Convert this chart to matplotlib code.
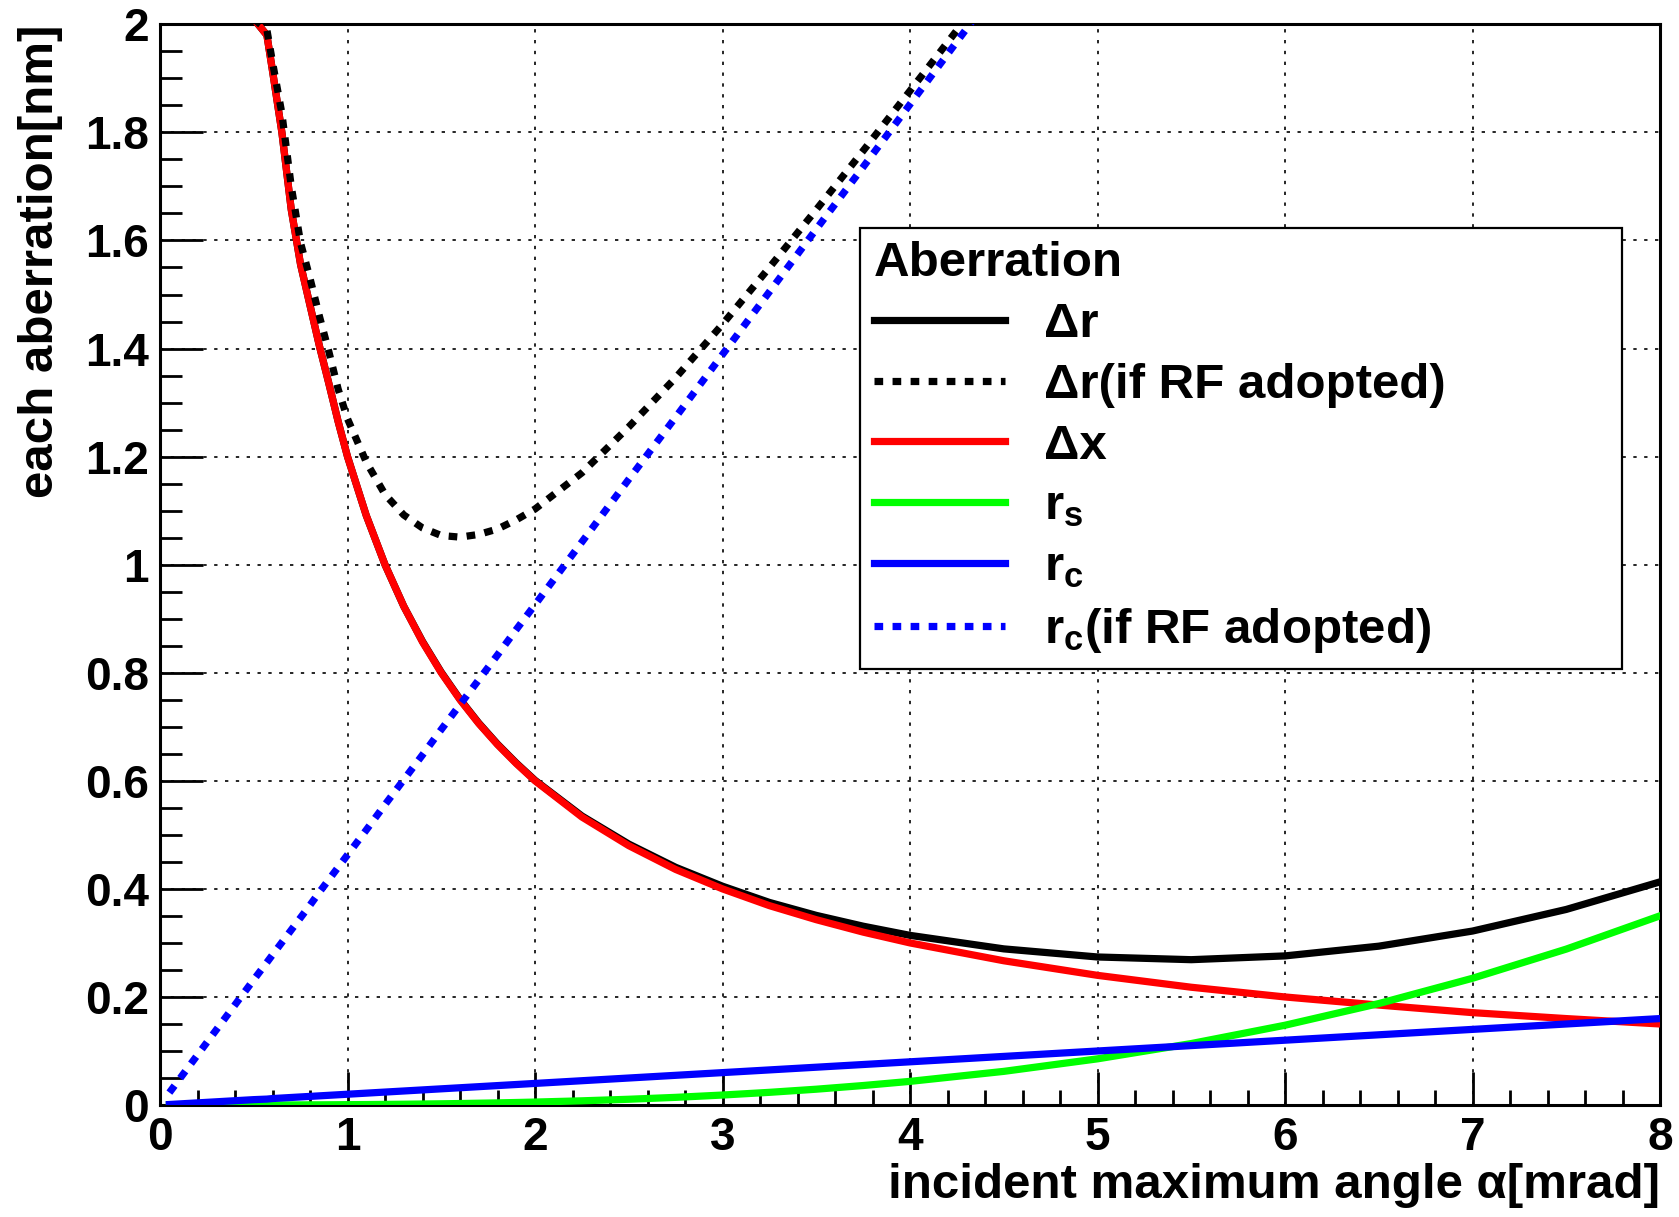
import numpy as np
import matplotlib
matplotlib.use('Agg')
import matplotlib.pyplot as plt
from matplotlib.ticker import MultipleLocator, FormatStrFormatter

plt.rcParams['font.family'] = ['Liberation Sans', 'DejaVu Sans']
plt.rcParams['font.weight'] = 'bold'
plt.rcParams['mathtext.fontset'] = 'custom'
plt.rcParams['mathtext.rm'] = 'Liberation Sans:bold'
plt.rcParams['mathtext.bf'] = 'Liberation Sans:bold'
plt.rcParams['mathtext.it'] = 'Liberation Sans:bold'

nan = np.nan

# incident maximum angle [mrad]
alpha = [0.05, 0.5, 0.57, 0.6, 0.65, 0.7, 0.75, 0.8, 0.85, 0.9, 0.95, 1.0, 1.1, 1.2,
         1.3, 1.4, 1.5, 1.6, 1.7, 1.8, 1.9, 2.0, 2.25, 2.5, 2.75, 3.0, 3.25, 3.5,
         3.75, 4.0, 4.5, 5.0, 5.5, 6.0, 6.5, 7.0, 7.5, 8.0]

# aberrations [nm]
dr = [nan, 2.01, 1.98, 1.914, 1.80, 1.657, 1.555, 1.48, 1.405, 1.336, 1.265, 1.200,
      1.091, 1.000, 0.923, 0.858, 0.801, 0.751, 0.707, 0.668, 0.633, 0.601, 0.535,
      0.483, 0.440, 0.405, 0.375, 0.351, 0.331, 0.314, 0.289, 0.274, 0.269, 0.276,
      0.294, 0.322, 0.362, 0.413]
dr_rf = [nan, 2.01, 1.99, 1.93, 1.835, 1.70, 1.595, 1.53, 1.46, 1.395, 1.325, 1.27,
         1.19, 1.13, 1.092, 1.068, 1.054, 1.051, 1.056, 1.066, 1.083, 1.103, 1.170,
         1.255, 1.346, 1.445, 1.550, 1.657, 1.766, 1.877, 2.101,
         nan, nan, nan, nan, nan, nan, nan]
dx = [nan, 2.01, 1.98, 1.914, 1.80, 1.657, 1.555, 1.48, 1.405, 1.336, 1.265, 1.200,
      1.091, 1.000, 0.923, 0.857, 0.800, 0.750, 0.706, 0.667, 0.632, 0.600, 0.533,
      0.480, 0.436, 0.400, 0.369, 0.343, 0.320, 0.300, 0.267, 0.240, 0.218, 0.200,
      0.185, 0.171, 0.160, 0.150]
rs = [0.0, 0.0001, 0.0001, 0.0001, 0.0002, 0.0002, 0.0003, 0.0004, 0.0004, 0.0005,
      0.0006, 0.0007, 0.0009, 0.0012, 0.0015, 0.0019, 0.0023, 0.0028, 0.0034, 0.0040,
      0.0047, 0.0055, 0.0078, 0.0107, 0.0142, 0.0185, 0.0235, 0.0293, 0.0361, 0.0438,
      0.0623, 0.0855, 0.1138, 0.1477, 0.1878, 0.2346, 0.2886, 0.3502]
rc = [0.001, 0.010, 0.011, 0.012, 0.013, 0.014, 0.015, 0.016, 0.017, 0.018, 0.019,
      0.020, 0.022, 0.024, 0.026, 0.028, 0.030, 0.032, 0.034, 0.036, 0.038, 0.040,
      0.045, 0.050, 0.055, 0.060, 0.065, 0.070, 0.075, 0.080, 0.090, 0.100, 0.110,
      0.120, 0.130, 0.140, 0.150, 0.160]
rc_rf = [0.023, 0.232, 0.264, 0.278, 0.301, 0.324, 0.347, 0.370, 0.394, 0.417, 0.440,
         0.463, 0.509, 0.556, 0.602, 0.648, 0.695, 0.741, 0.787, 0.833, 0.880, 0.926,
         1.042, 1.158, 1.273, 1.389, 1.505, 1.621, 1.736, 1.852, 2.084,
         nan, nan, nan, nan, nan, nan, nan]

fig = plt.figure(figsize=(16.79, 12.17), dpi=100)
ax = fig.add_axes([0.0953, 0.092, 0.8934, 0.888])

lw = 5.2
dots = (0, (1.2, 1.3))
ax.plot(alpha, dr, color='black', lw=lw, label='Δr', zorder=3)
ax.plot(alpha, dx, color='red', lw=lw, label='Δx', zorder=4)
ax.plot(alpha, dr_rf, color='black', lw=lw, ls=dots, label='Δr(if RF adopted)', zorder=5)
ax.plot(alpha, rs, color='#00ff00', lw=lw, label=r'r$_\mathbf{s}$', zorder=6)
ax.plot(alpha, rc, color='blue', lw=lw, label=r'r$_\mathbf{c}$', zorder=7)
ax.plot(alpha, rc_rf, color='blue', lw=lw, ls=dots, label=r'r$_\mathbf{c}$(if RF adopted)', zorder=8)

ax.set_xlim(0, 8)
ax.set_ylim(0, 2)
ax.xaxis.set_major_locator(MultipleLocator(1))
ax.xaxis.set_minor_locator(MultipleLocator(0.2))
ax.yaxis.set_major_locator(MultipleLocator(0.2))
ax.yaxis.set_minor_locator(MultipleLocator(0.05))
ax.yaxis.set_major_formatter(FormatStrFormatter('%g'))
ax.grid(True, which='major', color='black', lw=1.2, ls=(0, (2.0, 4.5)))

ax.tick_params(axis='both', which='both', direction='in', width=2.0,
               top=False, right=False, labelsize=33)
ax.tick_params(axis='y', which='major', length=31, pad=8)
ax.tick_params(axis='y', which='minor', length=16)
ax.tick_params(axis='x', which='major', length=24, pad=8)
ax.tick_params(axis='x', which='minor', length=11)
for s in ax.spines.values():
    s.set_linewidth(2.2)

ax.set_xlabel('incident maximum angle α[mrad]', fontsize=35.5, fontweight='bold', loc='right')
ax.xaxis.set_label_coords(1.0, -0.054)
ax.set_ylabel('each aberration[nm]', fontsize=35.5, fontweight='bold', loc='top')
ax.yaxis.set_label_coords(-0.065, 1.0)

handles, labels = ax.get_legend_handles_labels()
order = [0, 2, 1, 3, 4, 5]
leg = ax.legend([handles[i] for i in order], [labels[i] for i in order],
                title='Aberration', loc='upper left',
                bbox_to_anchor=(0.4667, 0.406, 0.508, 0.406), mode='expand',
                borderaxespad=0, fontsize=35.5, title_fontsize=35.5, alignment='left',
                handlelength=2.66, handletextpad=0.8, labelspacing=0.32,
                borderpad=0.28, fancybox=False, framealpha=1, edgecolor='black')
leg.get_frame().set_linewidth(1.6)
leg.get_title().set_fontweight('bold')
leg.set_zorder(10)

fig.savefig('out.png', dpi=100)
